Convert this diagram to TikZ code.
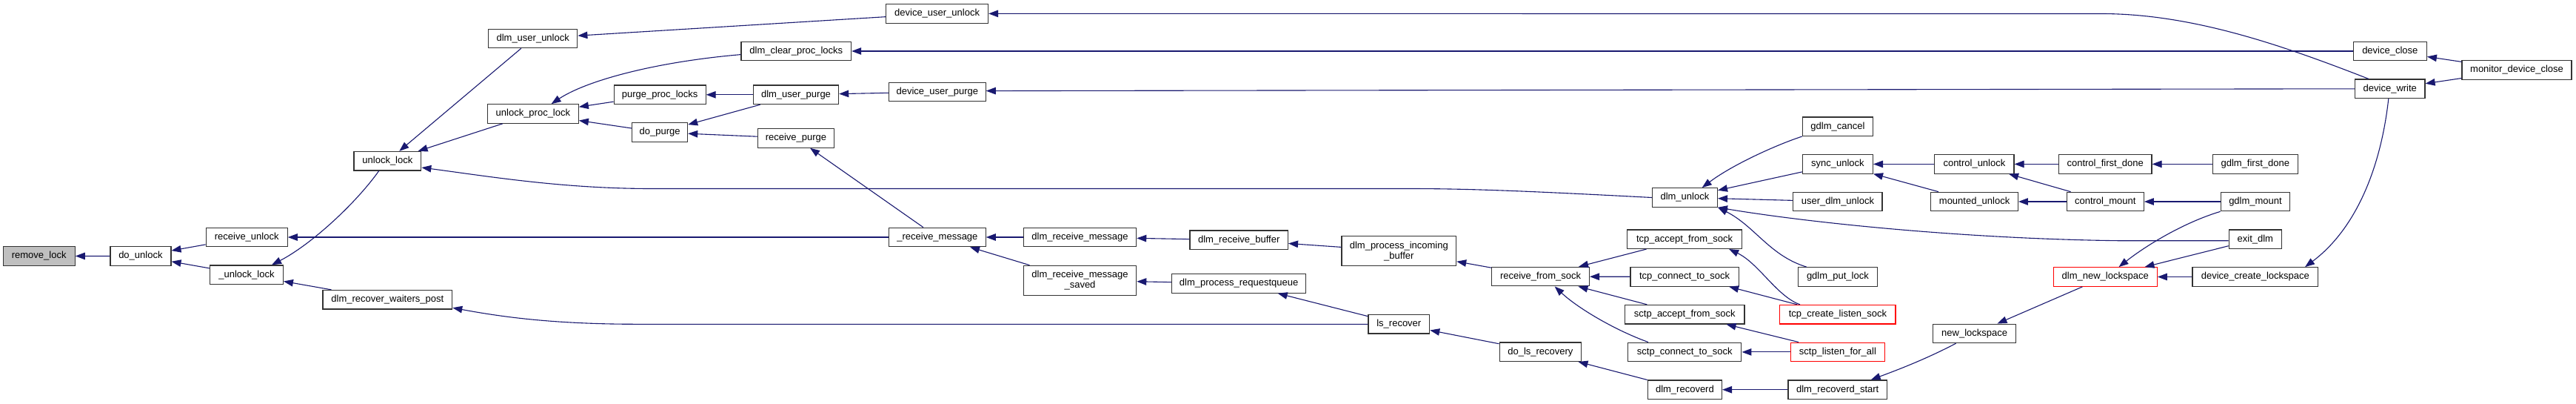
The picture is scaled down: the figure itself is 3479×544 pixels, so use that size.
\documentclass[tikz,border=0pt]{standalone}
\usepackage{fontspec}
\setmainfont{Liberation Sans}
\usetikzlibrary{arrows.meta}
\definecolor{edgec}{HTML}{191970}
\newcommand\fnfont{\fontsize{13}{14}\selectfont}
\begin{document}
\begin{tikzpicture}[x=1pt,y=-1pt,
 fn/.style={draw=black!80, line width=1.2pt, fill=white, inner sep=0pt, font=\fnfont, align=center, minimum height=25.5pt},
 fnred/.style={fn, draw=red},
 fntwo/.style={fn, minimum height=40pt},
 edge/.style={draw=edgec, line width=1.1pt, -{Triangle[length=13pt,width=9.5pt]}}]
\useasboundingbox[fill=white] (0,0) rectangle (3479,544);
% nodes
\node[fn, fill=black!25, minimum width=97pt] (removelock) at (52.7,345.4) {remove\_lock};
\node[fn, minimum width=82pt] (dounlock) at (189.9,345.5) {do\_unlock};
\node[fn, minimum width=110pt] (receiveunlock) at (333.2,320) {receive\_unlock};
\node[fn, minimum width=98.7pt] (uunlocklock) at (333,370.7) {\_unlock\_lock};
\node[fn, minimum width=90.7pt] (unlocklock) at (523.4,217.2) {unlock\_lock};
\node[fn, minimum width=174.7pt] (waiters) at (523.3,404.2) {dlm\_recover\_waiters\_post};
\node[fn, minimum width=120.2pt] (dlmuserunlock) at (719.7,51.9) {dlm\_user\_unlock};
\node[fn, minimum width=122.8pt] (unlockproclock) at (719.9,153.5) {unlock\_proc\_lock};
\node[fn, minimum width=148.5pt] (clearproc) at (1075.3,69) {dlm\_clear\_proc\_locks};
\node[fn, minimum width=124pt] (purgeproc) at (891.1,127.8) {purge\_proc\_locks};
\node[fn, minimum width=115.2pt] (dlmuserpurge) at (1075,127.8) {dlm\_user\_purge};
\node[fn, minimum width=75pt] (dopurge) at (891.1,178.6) {do\_purge};
\node[fn, minimum width=103pt] (receivepurge) at (1075,186.4) {receive\_purge};
\node[fn, minimum width=137.8pt] (devuserunlock) at (1265.6,18.4) {device\_user\_unlock};
\node[fn, minimum width=130.5pt] (devuserpurge) at (1265.9,124) {device\_user\_purge};
\node[fn, minimum width=130.5pt] (rcvmsg) at (1265.9,320) {\_receive\_message};
\node[fn, minimum width=152.3pt] (dlmrcvmsg) at (1458.5,320) {dlm\_receive\_message};
\node[fntwo, minimum width=152.3pt] (dlmrcvsaved) at (1458.5,378.3) {dlm\_receive\_message\\\_saved};
\node[fn, minimum width=132.4pt] (rcvbuffer) at (1673.2,323.8) {dlm\_receive\_buffer};
\node[fn, minimum width=181.2pt] (reqqueue) at (1673.1,382.4) {dlm\_process\_requestqueue};
\node[fntwo, minimum width=154.6pt] (incoming) at (1889.3,338.8) {dlm\_process\_incoming\\\_buffer};
\node[fn, minimum width=131.6pt] (rfsock) at (2080.6,373.1) {receive\_from\_sock};
\node[fn, minimum width=82.7pt] (lsrecover) at (1889.3,437.3) {ls\_recover};
\node[fn, minimum width=110.6pt] (dolsrec) at (2080.4,474.7) {do\_ls\_recovery};
\node[fn, minimum width=100.2pt] (recoverd) at (2275.4,525.7) {dlm\_recoverd};
\node[fn, minimum width=88pt] (dlmunlock) at (2275.4,266.5) {dlm\_unlock};
\node[fn, minimum width=154.8pt] (tcpaccept) at (2275.1,322.7) {tcp\_accept\_from\_sock};
\node[fn, minimum width=146.4pt] (tcpconnect) at (2275.1,373.4) {tcp\_connect\_to\_sock};
\node[fn, minimum width=161.7pt] (sctpaccept) at (2275.2,424.2) {sctp\_accept\_from\_sock};
\node[fn, minimum width=153.3pt] (sctpconnect) at (2275.2,474.9) {sctp\_connect\_to\_sock};
\node[fn, minimum width=95pt] (gdlmcancel) at (2481.9,170.7) {gdlm\_cancel};
\node[fn, minimum width=95pt] (syncunlock) at (2481.9,221.4) {sync\_unlock};
\node[fn, minimum width=120.2pt] (userdlmunlock) at (2481.9,272) {user\_dlm\_unlock};
\node[fn, minimum width=106.4pt] (gdlmputlock) at (2481.9,373.5) {gdlm\_put\_lock};
\node[fnred, minimum width=156.2pt] (tcplisten) at (2481.9,424.2) {tcp\_create\_listen\_sock};
\node[fnred, minimum width=127pt] (sctplisten) at (2481.9,474.9) {sctp\_listen\_for\_all};
\node[fn, minimum width=133.6pt] (recoverdstart) at (2481.7,525.7) {dlm\_recoverd\_start};
\node[fn, minimum width=107.1pt] (controlunlock) at (2666.4,221.4) {control\_unlock};
\node[fn, minimum width=117.5pt] (mountedunlock) at (2666.6,272) {mounted\_unlock};
\node[fn, minimum width=112.1pt] (newls) at (2666.6,449.9) {new\_lockspace};
\node[fn, minimum width=125.5pt] (firstdone) at (2843.2,221.4) {control\_first\_done};
\node[fn, minimum width=104.1pt] (controlmount) at (2843.2,272) {control\_mount};
\node[fnred, minimum width=140pt] (dlmnewls) at (2843.2,373.5) {dlm\_new\_lockspace};
\node[fn, minimum width=99pt] (devclose) at (3227.8,69) {device\_close};
\node[fn, minimum width=94.4pt] (devwrite) at (3227.8,119.8) {device\_write};
\node[fn, minimum width=148pt] (monitor) at (3399,94.5) {monitor\_device\_close};
\node[fn, minimum width=114.6pt] (gdlmfirstdone) at (3045.8,221.4) {gdlm\_first\_done};
\node[fn, minimum width=93.6pt] (gdlmmount) at (3046,272) {gdlm\_mount};
\node[fn, minimum width=71pt] (exitdlm) at (3045.8,322.7) {exit\_dlm};
\node[fn, minimum width=169.6pt] (devcreatels) at (3045.8,373.5) {device\_create\_lockspace};
% edges
\draw[edge] (dounlock) -- (removelock);
\draw[edge] (receiveunlock) -- (dounlock);
\draw[edge] (uunlocklock) -- (dounlock);
\draw[edge] ([xshift=-11.7pt]unlocklock.south) .. controls (480,275) and (420,330) .. ([xshift=34pt]uunlocklock.north);
\draw[edge] (waiters) -- (uunlocklock);
\draw[edge] (rcvmsg) -- (receiveunlock);
\draw[edge] (dlmuserunlock) -- (unlocklock);
\draw[edge] (unlockproclock) -- (unlocklock);
\draw[edge] (dlmunlock.west) .. controls (2050,257) and (1980,254.5) .. (1900,254.5) -- (880,254.5) .. controls (760,254.5) and (660,238) .. ([yshift=-8.8pt]unlocklock.east);
\draw[edge] (devuserunlock) -- (dlmuserunlock);
\draw[edge] ([yshift=-4.6pt]clearproc.west) .. controls (880,84) and (790,110) .. ([xshift=24.7pt]unlockproclock.north);
\draw[edge] (purgeproc) -- (unlockproclock);
\draw[edge] (dopurge) -- (unlockproclock);
\draw[edge] (dlmuserpurge) -- (purgeproc);
\draw[edge] (dlmuserpurge) -- (dopurge);
\draw[edge] (receivepurge) -- (dopurge);
\draw[edge] (rcvmsg) -- (receivepurge);
\draw[edge] (devuserpurge) -- (dlmuserpurge);
\draw[edge] ([xshift=-28.8pt]devwrite.north) .. controls (3080,60) and (2960,19) .. (2840,18.5) -- (devuserunlock.east);
\draw[edge] (devclose) -- (clearproc);
\draw[edge] (devwrite.west) -- ([yshift=1.4pt]devuserpurge.east);
\draw[edge] (monitor) -- (devclose);
\draw[edge] (monitor) -- (devwrite);
\draw[edge] (dlmrcvmsg) -- (rcvmsg);
\draw[edge] (dlmrcvsaved) -- (rcvmsg);
\draw[edge] (rcvbuffer) -- (dlmrcvmsg);
\draw[edge] (reqqueue) -- (dlmrcvsaved);
\draw[edge] (incoming) -- (rcvbuffer);
\draw[edge] (lsrecover) -- (reqqueue);
\draw[edge] (lsrecover.west) -- (860,437.3) .. controls (750,437.3) and (680,428) .. ([yshift=-11pt]waiters.east);
\draw[edge] (rfsock) -- (incoming);
\draw[edge] (tcpaccept) -- (rfsock);
\draw[edge] (tcpconnect) -- (rfsock);
\draw[edge] (sctpaccept) -- (rfsock);
\draw[edge] ([xshift=-49.2pt]sctpconnect.north) .. controls (2180,445) and (2130,415) .. ([xshift=19.1pt]rfsock.south);
\draw[edge] ([xshift=-50.9pt]tcplisten.north) .. controls (2400,400) and (2375,355) .. ([xshift=60pt]tcpaccept.south);
\draw[edge] ([xshift=-54.7pt]tcplisten.north) -- ([xshift=60pt]tcpconnect.south);
\draw[edge] ([xshift=-52.8pt]sctplisten.north) -- ([xshift=56.3pt]sctpaccept.south);
\draw[edge] (sctplisten) -- (sctpconnect);
\draw[edge] (dolsrec) -- (lsrecover);
\draw[edge] (recoverd) -- (dolsrec);
\draw[edge] (recoverdstart) -- (recoverd);
\draw[edge] ([xshift=-25.1pt]newls.south) .. controls (2600,485) and (2560,500) .. ([xshift=45pt]recoverdstart.north);
\draw[edge] (dlmnewls) -- (newls);
\draw[edge] (gdlmmount.south west) .. controls (2950,300) and (2900,330) .. ([xshift=18.3pt]dlmnewls.north);
\draw[edge] (exitdlm) -- (dlmnewls);
\draw[edge] (devcreatels) -- (dlmnewls);
\draw[edge] ([xshift=-2pt]devwrite.south) .. controls (3215,230) and (3180,310) .. ([xshift=67.2pt]devcreatels.north);
\draw[edge] (gdlmcancel.south west) .. controls (2400,195) and (2340,222) .. ([xshift=23.3pt]dlmunlock.north);
\draw[edge] (syncunlock) -- (dlmunlock);
\draw[edge] (userdlmunlock) -- (dlmunlock);
\draw[edge] ([xshift=-42pt]gdlmputlock.north) .. controls (2390,345) and (2370,305) .. (dlmunlock.south east);
\draw[edge] ([yshift=-2pt]exitdlm.west) -- (2860,324.7) .. controls (2650,322) and (2440,300) .. (dlmunlock.south east);
\draw[edge] (controlunlock) -- (syncunlock);
\draw[edge] (mountedunlock) -- (syncunlock);
\draw[edge] (firstdone) -- (controlunlock);
\draw[edge] (controlmount) -- (controlunlock);
\draw[edge] (controlmount) -- (mountedunlock);
\draw[edge] (gdlmfirstdone) -- (firstdone);
\draw[edge] (gdlmmount) -- (controlmount);
\end{tikzpicture}
\end{document}
